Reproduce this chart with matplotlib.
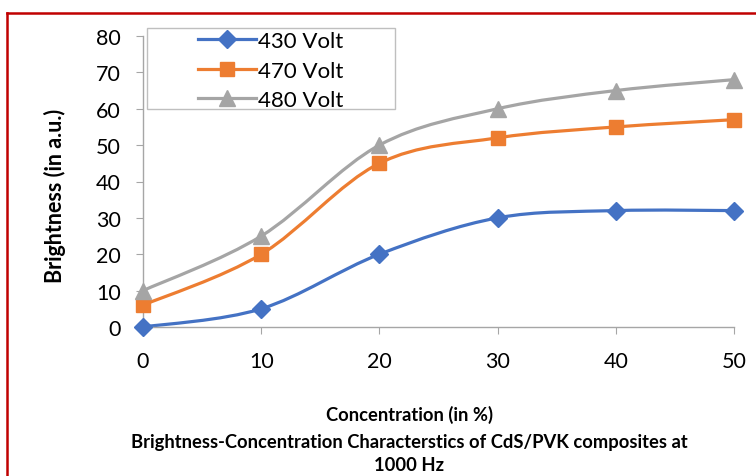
import matplotlib.pyplot as plt
from matplotlib.path import Path
from matplotlib.patches import PathPatch, Rectangle
from matplotlib.lines import Line2D

plt.rcParams['font.family'] = ['Lato', 'DejaVu Sans']

# data
concentration = [0, 10, 20, 30, 40, 50]
v430 = [0, 5, 20, 30, 32, 32]
v470 = [6, 20, 45, 52, 55, 57]
v480 = [10, 25, 50, 60, 65, 68]
labels = ['430 Volt', '470 Volt', '480 Volt']
colors = ['#4472C4', '#ED7D31', '#A5A5A5']
markers = ['D', 's', '^']
msizes = [9, 10, 11]


def smooth_path(x, y):
    # Excel-style smoothed line: cubic bezier segments (Catmull-Rom controls)
    verts = [(x[0], y[0])]
    codes = [Path.MOVETO]
    n = len(x)
    for i in range(n - 1):
        x0, y0 = (x[i - 1], y[i - 1]) if i > 0 else (x[i], y[i])
        x3, y3 = (x[i + 2], y[i + 2]) if i + 2 < n else (x[i + 1], y[i + 1])
        c1 = (x[i] + (x[i + 1] - x0) / 6, y[i] + (y[i + 1] - y0) / 6)
        c2 = (x[i + 1] - (x3 - x[i]) / 6, y[i + 1] - (y3 - y[i]) / 6)
        verts += [c1, c2, (x[i + 1], y[i + 1])]
        codes += [Path.CURVE4] * 3
    return Path(verts, codes)


W, H = 756, 477
fig = plt.figure(figsize=(W / 100, H / 100), dpi=100)
ax = fig.add_axes([143 / W, 1 - 328 / H, 591 / W, 291 / H])

handles = []
for vals, lab, c, m, ms in zip([v430, v470, v480], labels, colors, markers, msizes):
    ax.add_patch(PathPatch(smooth_path(concentration, vals), facecolor='none',
                           edgecolor=c, lw=2.3, zorder=2))
    ax.plot(concentration, vals, ls='none', marker=m, ms=ms, color=c, zorder=3,
            clip_on=False)
    handles.append(Line2D([], [], color=c, lw=2.3, marker=m, ms=ms))

ax.set_xlim(0, 50)
ax.set_ylim(0, 80)
ax.set_xticks(range(0, 51, 10))
ax.set_yticks(range(0, 81, 10))
for s in ['top', 'right']:
    ax.spines[s].set_visible(False)
for s in ['left', 'bottom']:
    ax.spines[s].set_color('#A6A6A6')
    ax.spines[s].set_linewidth(1)
ax.tick_params(axis='y', length=5, color='#A6A6A6', labelsize=15.5, pad=11)
ax.tick_params(axis='x', length=5, color='#A6A6A6', labelsize=15.5, pad=12)

fig.text(55 / W, 1 - 196 / H, 'Brightness (in a.u.)', rotation=90, ha='center',
         va='center', fontsize=15.5, fontweight='bold')

# legend box drawn separately, entries centred inside it
fig.add_artist(Rectangle((147 / W, 1 - 110 / H), 248 / W, 81 / H,
                         transform=fig.transFigure, facecolor='white',
                         edgecolor='#BFBFBF', lw=1, zorder=4))
leg = fig.legend(handles, labels, loc='upper left',
                 bbox_to_anchor=(196 / W, 1 - 30 / H), fontsize=16,
                 frameon=False, handlelength=2.6, handletextpad=0.1,
                 borderpad=0.1, labelspacing=0.42, borderaxespad=0)
leg.set_zorder(5)

fig.text(409 / W, 1 - 415 / H, 'Concentration (in %)', ha='center',
         va='center', fontsize=13.2, fontweight='bold')
fig.text(409 / W, 1 - 443 / H,
         'Brightness-Concentration Characterstics of CdS/PVK composites at',
         ha='center', va='center', fontsize=13.2, fontweight='bold')
fig.text(409 / W, 1 - 466 / H, '1000 Hz', ha='center', va='center',
         fontsize=13.2, fontweight='bold')

# red frame around the chart area
fig.add_artist(Line2D([7 / W, 7 / W], [0, 1 - 14 / H], color='#C00000',
                      lw=1.8, transform=fig.transFigure))
fig.add_artist(Line2D([7 / W, 1], [1 - 14 / H, 1 - 14 / H], color='#C00000',
                      lw=1.8, transform=fig.transFigure))

fig.savefig('out.png', dpi=100)
